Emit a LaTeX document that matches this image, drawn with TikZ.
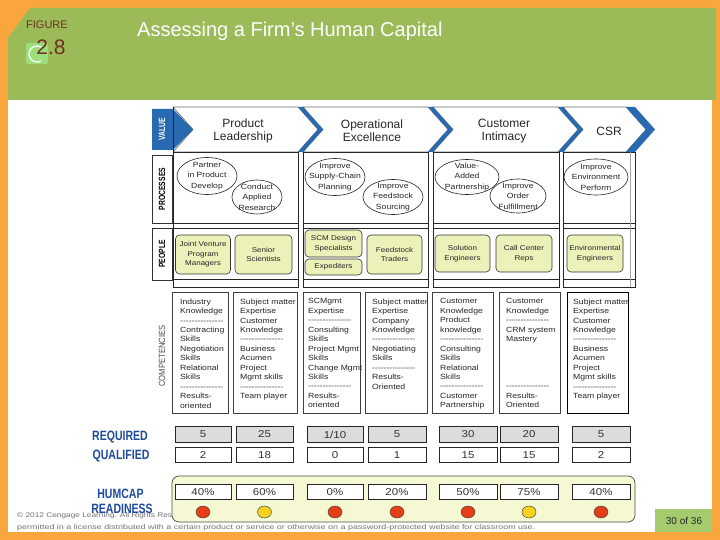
\documentclass[tikz,border=0pt]{standalone}
\usepackage{fontspec}
\setmainfont{Liberation Sans}
\newfontfamily\wf[FakeStretch=1.15]{Liberation Sans}
\usetikzlibrary{shapes.geometric}
\definecolor{orangeF}{RGB}{249,166,62}
\definecolor{headG}{RGB}{155,187,89}
\definecolor{pageG}{RGB}{166,203,110}
\definecolor{figR}{RGB}{112,48,38}
\definecolor{chevB}{RGB}{40,105,175}
\definecolor{pplY}{RGB}{236,241,186}
\definecolor{panelY}{RGB}{245,248,210}
\definecolor{reqG}{RGB}{220,220,220}
\definecolor{lblB}{RGB}{30,75,155}
\definecolor{dotR}{RGB}{228,62,22}
\definecolor{dotY}{RGB}{246,210,30}
\newcommand\dl{{-}{-}{-}{-}{-}{-}{-}{-}{-}{-}{-}{-}{-}{-}{-}}
\newcommand\proc[5]{%
  \node[procell, minimum width=#3pt, minimum height=#4pt] (#1) at (#2) {};
  \node[proctxt] (#1t) at (#1.center) {#5};}
\begin{document}
\begin{tikzpicture}[x=1pt,y=-1pt,
  chev/.style={fill=white, draw=black!60, line width=0.6pt},
  chevtxt/.style={align=center, font=\fontsize{12}{13}\selectfont, text=black!85},
  lblbox/.style={draw=black!80, line width=0.6pt},
  vlbl/.style={rotate=90, inner sep=0, font=\fontsize{9}{9}\selectfont\bfseries},
  grid/.style={draw=black!85, line width=0.7pt},
  procell/.style={ellipse, draw=black!85, line width=0.6pt, inner sep=0},
  proctxt/.style={align=center, inner sep=0, font=\wf\fontsize{7.5}{10.5}\selectfont, text=black!85},
  ppl/.style={draw=black!80, fill=pplY, rounded corners=4pt, line width=0.6pt, align=center, inner sep=0, font=\wf\fontsize{7}{9.5}\selectfont, text=black!85},
  comp/.style={draw=black!75, line width=0.6pt},
  comptxt/.style={anchor=north west, align=left, inner sep=0, font=\wf\fontsize{7.5}{9.45}\selectfont, text=black!85},
  numbox/.style={draw=black!85, line width=0.6pt, inner sep=0, minimum height=15.5pt, font=\wf\fontsize{10}{10}\selectfont, text=black!80},
  blbl/.style={text=lblB, inner sep=0, font=\fontsize{13.5}{13.5}\selectfont\bfseries},
  dot/.style={ellipse, draw=black!70, line width=0.5pt, minimum width=14pt, minimum height=12pt, inner sep=0},
]
\useasboundingbox (0,0) rectangle (720,540);
% background and header
\fill[orangeF] (0,0) rectangle (720,540);
\fill[white] (8,100) rectangle (712,532);
\fill[headG] (30,8) -- (716,8) -- (716,100) -- (8,100) -- (8,38) -- cycle;
\fill[headG!60!white!80!green, rounded corners=2pt] (26,43) rectangle (48,64);
\draw[white, line width=1.3pt] (41,60.9) arc (60:300:8);
\node[anchor=west, inner sep=0, text=figR, font=\fontsize{11}{11}\selectfont] (figl) at (26,25) {FIGURE};
\node[inner sep=0, text=figR, font=\fontsize{21}{21}\selectfont] (fign) at (51,47) {2.8};
\node[anchor=west, inner sep=0, text=white, font=\fontsize{20}{20}\selectfont] (title) at (137,31) {Assessing a Firm’s Human Capital};
% footer
\node[anchor=west, inner sep=0, text=black!55, font=\fontsize{6.8}{6.8}\selectfont] (foot1) at (17,516) {\scalebox{1.22}[1]{© 2012 Cengage Learning. All Rights Reserved.}};
\node[anchor=west, inner sep=0, text=black!55, font=\fontsize{6.8}{6.8}\selectfont] (foot2) at (17,527.5) {\resizebox{518pt}{\height}{permitted in a license distributed with a certain product or service or otherwise on a password-protected website for classroom use.}};
\fill[pageG] (655,509) rectangle (712,532);
\node[inner sep=0, text=black!85, font=\fontsize{10}{10}\selectfont] (pnum) at (684,520.5) {30 of 36};
% value chevrons
\draw[chev] (173,107) -- (298,107) -- (318,129.5) -- (298,152) -- (173,152) -- (193,129.5) -- cycle;
\draw[chev] (303,107) -- (428,107) -- (448,129.5) -- (428,152) -- (303,152) -- (323,129.5) -- cycle;
\draw[chev] (433,107) -- (558,107) -- (578,129.5) -- (558,152) -- (433,152) -- (453,129.5) -- cycle;
\draw[chev] (563,107) -- (626,107) -- (646,129.5) -- (626,152) -- (563,152) -- (583,129.5) -- cycle;
\foreach \b in {303,433,563}
  \fill[chevB] (\b-5,107) -- (\b,107) -- (\b+20,129.5) -- (\b,152) -- (\b-5,152) -- (\b+15,129.5) -- cycle;
\fill[chevB] (626,107) -- (635,107) -- (655,129.5) -- (635,152) -- (626,152) -- (646,129.5) -- cycle;
\fill[chevB] (152,109) -- (173,109) -- (193,129.5) -- (173,150) -- (152,150) -- cycle;
\draw[grid] (173,107) -- (173,152);
\node[vlbl, text=white] (lvalue) at (162,129.5) {\scalebox{0.75}[1]{VALUE}};
\node[chevtxt] (v1) at (243,131) {Product\\Leadership};
\node[chevtxt] (v2) at (372,131) {Operational\\Excellence};
\node[chevtxt] (v3) at (504,131) {Customer\\Intimacy};
\node[chevtxt] (v4) at (609,131) {CSR};
% row labels
\draw[lblbox] (152,155) rectangle (172,223);
\node[vlbl] (lproc) at (162,189) {\scalebox{0.75}[1]{PROCESSES}};
\draw[lblbox] (152,228) rectangle (172,280);
\node[vlbl] (lpeople) at (162,254) {\scalebox{0.75}[1]{PEOPLE}};
\node[rotate=90, inner sep=0, text=black!70, font=\fontsize{9}{9}\selectfont] (lcomp) at (162,356) {\scalebox{0.85}[1]{COMPETENCIES}};
% column groups
\foreach \a/\b in {173/298, 303/428, 433/559, 563/635} {
  \draw[grid] (\a,152) rectangle (\b,287);
  \draw[grid] (\a,223) -- (\b,223);
  \draw[grid] (\a,228) -- (\b,228);
  \draw[grid] (\a,279) -- (\b,279);
}
\draw[black!35, line width=0.6pt] (630,152) -- (630,287);
% processes
\proc{p1}{207,176}{60}{37}{Partner\\in Product\\Develop}
\proc{p2}{257,197}{50}{34}{Conduct\\Applied\\Research}
\proc{p3}{335,177}{60}{37}{Improve\\Supply-Chain\\Planning}
\proc{p4}{393,197}{60}{35}{Improve\\Feedstock\\Sourcing}
\proc{p5}{467,177}{64}{35}{Value-\\Added\\Partnership}
\proc{p6}{518,196}{56}{34}{Improve\\Order\\Fulfillment}
\proc{p7}{596,177}{64}{36}{Improve\\Environment\\Perform}
% people
\node[ppl, minimum width=55pt, minimum height=39pt] (pp1) at (203,254.5) {Joint Venture\\Program\\Managers};
\node[ppl, minimum width=57pt, minimum height=39pt] (pp2) at (263.5,254.5) {Senior\\Scientists};
\node[ppl, minimum width=57pt, minimum height=27pt] (pp3) at (333.5,243.5) {SCM Design\\Specialists};
\node[ppl, minimum width=57pt, minimum height=16pt] (pp4) at (333.5,267) {Expediters};
\node[ppl, minimum width=55pt, minimum height=39pt] (pp5) at (394.5,254.5) {Feedstock\\Traders};
\node[ppl, minimum width=55pt, minimum height=37pt] (pp6) at (462.5,253.5) {Solution\\Engineers};
\node[ppl, minimum width=56pt, minimum height=37pt] (pp7) at (524,253.5) {Call Center\\Reps};
\node[ppl, minimum width=56pt, minimum height=37pt] (pp8) at (595,253.5) {Environmental\\Engineers};
% competencies
\draw[comp] (172,292) rectangle (228,413);
\draw[comp] (233,292) rectangle (297,413);
\draw[comp] (303,292) rectangle (360,413);
\draw[comp] (365,292) rectangle (427,413);
\draw[comp] (432,292) rectangle (493,413);
\draw[comp] (499,292) rectangle (560,413);
\draw[comp, draw=black, line width=0.9pt] (567,292) rectangle (628,413);
\node[comptxt] (c1) at (180,298.5) {Industry\\Knowledge\\\dl\\Contracting\\Skills\\Negotiation\\Skills\\Relational\\Skills\\\dl\\Results-\\oriented};
\node[comptxt] (c2) at (240,298.5) {Subject matter\\Expertise\\Customer\\Knowledge\\\dl\\Business\\Acumen\\Project\\Mgmt skills\\\dl\\Team player};
\node[comptxt] (c3) at (308,298.5) {SCMgmt\\Expertise\\\dl\\Consulting\\Skills\\Project Mgmt\\Skills\\Change Mgmt\\Skills\\\dl\\Results-\\oriented};
\node[comptxt] (c4) at (372,298.5) {Subject matter\\Expertise\\Company\\Knowledge\\\dl\\Negotiating\\Skills\\\dl\\Results-\\Oriented};
\node[comptxt] (c5) at (440,298.5) {Customer\\Knowledge\\Product\\knowledge\\\dl\\Consulting\\Skills\\Relational\\Skills\\\dl\\Customer\\Partnership};
\node[comptxt] (c6) at (506,298.5) {Customer\\Knowledge\\\dl\\CRM system\\Mastery\\\mbox{}\\\mbox{}\\\mbox{}\\\mbox{}\\\dl\\Results-\\Oriented};
\node[comptxt] (c7) at (573,298.5) {Subject matter\\Expertise\\Customer\\Knowledge\\\dl\\Business\\Acumen\\Project\\Mgmt skills\\\dl\\Team player};
% required / qualified / readiness
\node[blbl] (lreq) at (120,437) {\scalebox{0.78}[1]{REQUIRED}};
\node[blbl] (lqual) at (121,456) {\scalebox{0.78}[1]{QUALIFIED}};
\node[blbl] (lhum) at (120.5,494) {\scalebox{0.78}[1]{HUMCAP}};
\node[blbl] (lread) at (122,509) {\scalebox{0.78}[1]{READINESS}};
\draw[draw=black!70, fill=panelY, rounded corners=7pt, line width=0.7pt] (172,476) rectangle (635,522);
\foreach \cx/\w/\r/\q/\p/\dc [count=\i] in {203/56/5/2/40/dotR, 264.5/57/25/18/60/dotY, 335/56/{1/10}/0/0/dotR, 397/58/5/1/20/dotR, 468/58/30/15/50/dotR, 529/58/20/15/75/dotY, 601/58/5/2/40/dotR} {
  \node[numbox, fill=reqG, minimum width=\w pt] (r\i) at (\cx,434.5) {\r};
  \node[numbox, fill=white, minimum width=\w pt] (q\i) at (\cx,455) {\q};
  \node[numbox, fill=white, minimum width=\w pt] (h\i) at (\cx,492) {\p\%};
  \node[dot, fill=\dc] (d\i) at (\cx,512) {};
}
\end{tikzpicture}
\end{document}
